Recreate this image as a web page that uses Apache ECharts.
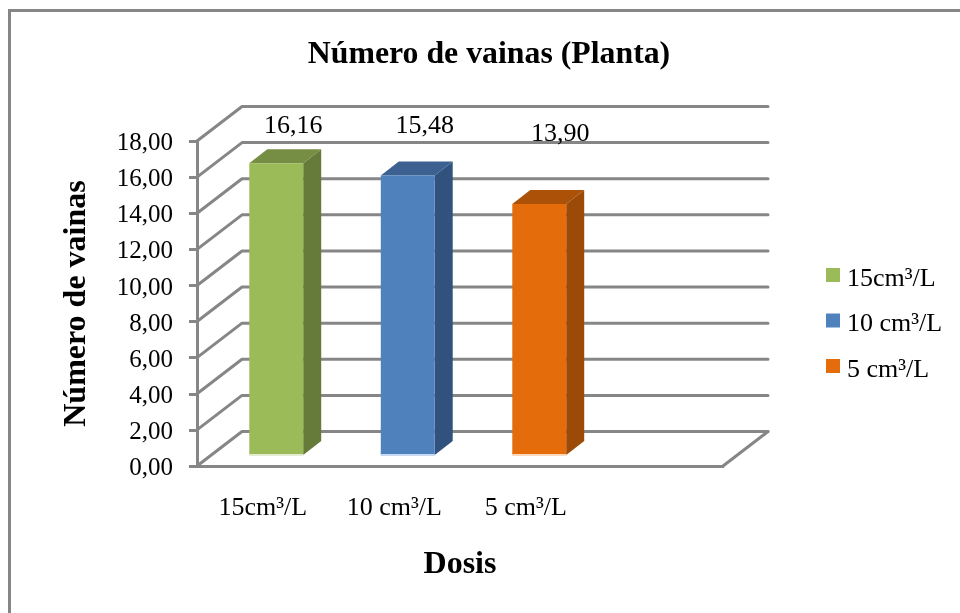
<!DOCTYPE html>
<html>
<head>
<meta charset="utf-8">
<style>
  html, body { margin: 0; padding: 0; background: #fff; }
  #main { width: 960px; height: 613px; }
</style>
</head>
<body>
<div id="main"></div>
<script src="https://cdn.jsdelivr.net/npm/echarts@6/dist/echarts.min.js"></script>
<script>
const categories = ["15cm³/L", "10 cm³/L", "5 cm³/L", ""];
const seriesNames = ["15cm³/L", "10 cm³/L", "5 cm³/L"];
const seriesValues = [16.16, 15.48, 13.9];
const yTicks = [0, 2, 4, 6, 8, 10, 12, 14, 16, 18];

const FONT = '"Liberation Serif", "Times New Roman", serif';
const GRID_COLOR = "#868686";
// front, top, side, bottom edge
const barColors = [
  ["#9BBB59", "#768E44", "#667B39", "#E3ECD0"],
  ["#4F81BD", "#3C6190", "#30527C", "#C6D9F1"],
  ["#E46C0A", "#AB5108", "#9C4A07", "#FBD9BC"],
];
// the data labels were moved by hand in the original
const labelOffsets = [[17, -37], [17, -49], [21, -70]];

// depth of the walls and of the bars
const WALL_DX = 45, WALL_DY = -34.5;
const BAR_DX = 18, BAR_DY = -14;
const BAR_SHIFT = 13.5, BAR_FLOOR = 11, BAR_RATIO = 0.41;

function renderWall(params, api) {
  const sys = params.coordSys;
  const y = api.coord([0, api.value(1)])[1];
  const x0 = sys.x, x1 = sys.x + WALL_DX, x2 = sys.x + sys.width + WALL_DX;
  const style = { stroke: GRID_COLOR, lineWidth: 3, fill: null, lineCap: "round", lineJoin: "round" };
  const children = [{
    type: "polyline",
    shape: { points: [[x0, y], [x1, y + WALL_DY], [x2, y + WALL_DY]] },
    style: style,
  }];
  if (api.value(1) === 0) {
    children.push({
      type: "line",
      shape: { x1: x2, y1: y + WALL_DY, x2: sys.x + sys.width, y2: y },
      style: style,
    });
  }
  return { type: "group", children: children };
}

function renderBar(params, api) {
  const idx = params.seriesIndex - 1;
  const c = barColors[idx];
  const top = api.coord([api.value(0), api.value(1)]);
  const base = api.coord([api.value(0), 0]);
  const w = api.size([1, 0])[0] * BAR_RATIO;
  const x0 = top[0] + BAR_SHIFT - w / 2, x1 = x0 + w;
  const yt = top[1] - BAR_FLOOR, yb = base[1] - BAR_FLOOR;
  const off = labelOffsets[idx];
  return {
    type: "group",
    children: [
      { type: "polygon", shape: { points: [[x1, yt], [x1 + BAR_DX, yt + BAR_DY], [x1 + BAR_DX, yb + BAR_DY], [x1, yb]] }, style: { fill: c[2] } },
      { type: "polygon", shape: { points: [[x0, yt], [x0 + BAR_DX, yt + BAR_DY], [x1 + BAR_DX, yt + BAR_DY], [x1, yt]] }, style: { fill: c[1] } },
      { type: "rect", shape: { x: x0, y: yt, width: w, height: yb - yt }, style: { fill: c[0] } },
      { type: "rect", shape: { x: x0, y: yb - 1, width: w, height: 2 }, style: { fill: c[3] } },
      {
        type: "text",
        style: {
          x: top[0] + BAR_SHIFT + off[0],
          y: yt + off[1],
          text: api.value(1).toFixed(2).replace(".", ","),
          font: "26px " + FONT,
          fill: "#000",
          align: "center",
          verticalAlign: "middle",
        },
      },
    ],
  };
}

const chart = echarts.init(document.getElementById("main"));

const series = [{
  name: "paredes",
  type: "custom",
  renderItem: renderWall,
  silent: true,
  encode: { x: 0, y: 1 },
  data: yTicks.map((v) => [0, v]),
  z: 1,
}];
seriesNames.forEach((name, i) => {
  series.push({
    name: name,
    type: "custom",
    renderItem: renderBar,
    encode: { x: 0, y: 1 },
    itemStyle: { color: barColors[i][0] },
    data: [[i, seriesValues[i]]],
    z: 3,
  });
});

chart.setOption({
  animation: false,
  backgroundColor: "#fff",
  title: {
    text: "Número de vainas (Planta)",
    left: 484,
    top: 34,
    textAlign: "center",
    textStyle: { fontFamily: FONT, fontSize: 31.8, fontWeight: "bold", color: "#000" },
  },
  grid: { left: 197, top: 141, width: 526, height: 325 },
  legend: {
    data: seriesNames,
    orient: "vertical",
    left: 826,
    top: 258,
    padding: 0,
    itemWidth: 14,
    itemHeight: 14,
    itemGap: 11.5,
    icon: "rect",
    itemStyle: { borderWidth: 0 },
    formatter: (name) => "{a|" + name + "}",
    textStyle: {
      rich: {
        a: { fontFamily: FONT, fontSize: 26, color: "#000", lineHeight: 26, padding: [8, 0, 0, 2] },
      },
    },
    selectedMode: false,
  },
  xAxis: {
    type: "category",
    data: categories,
    name: "Dosis",
    nameLocation: "middle",
    nameGap: 83,
    nameTextStyle: { fontFamily: FONT, fontSize: 32, fontWeight: "bold", color: "#000" },
    axisLine: { show: true, lineStyle: { color: GRID_COLOR, width: 3 } },
    axisTick: { show: false },
    axisLabel: { fontFamily: FONT, fontSize: 26, color: "#000", margin: 29, interval: 0 },
    z: 2,
  },
  yAxis: {
    type: "value",
    min: 0,
    max: 18,
    interval: 2,
    name: "Número de vainas",
    nameLocation: "middle",
    nameRotate: 90,
    nameGap: 104,
    nameTextStyle: { fontFamily: FONT, fontSize: 32, fontWeight: "bold", color: "#000" },
    axisLine: { show: true, lineStyle: { color: GRID_COLOR, width: 3 } },
    axisTick: { show: true, length: 8, lineStyle: { color: GRID_COLOR, width: 3 } },
    axisLabel: {
      fontFamily: FONT,
      fontSize: 25,
      color: "#000",
      margin: 24,
      verticalAlign: "top",
      lineHeight: 25,
      padding: [-10, 0, 0, 0],
      formatter: (v) => v.toFixed(2).replace(".", ","),
    },
    splitLine: { show: false },
  },
  // chart frame, only its left and top edges fall inside the picture
  graphic: [{
    type: "polyline",
    silent: true,
    shape: { points: [[9.5, 613], [9.5, 10.5], [960, 10.5]] },
    style: { stroke: GRID_COLOR, lineWidth: 3, fill: null },
  }],
  series: series,
});
</script>
</body>
</html>
